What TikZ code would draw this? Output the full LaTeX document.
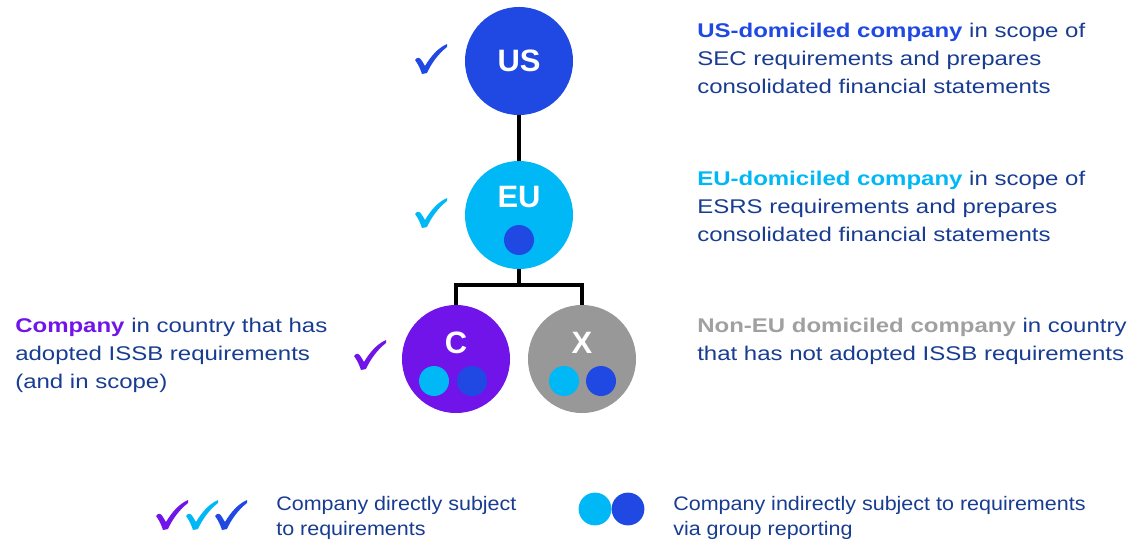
\documentclass[tikz,border=0pt]{standalone}
\usepackage{fontspec}
\setmainfont{Liberation Sans}
\newfontfamily\notefam[FakeStretch=1.21]{Liberation Sans}
\newfontfamily\keyfam[FakeStretch=1.1]{Liberation Sans}
\definecolor{navy}{RGB}{24,60,145}
\definecolor{usblue}{RGB}{31,73,226}
\definecolor{eucyan}{RGB}{0,184,245}
\definecolor{cpurple}{RGB}{113,20,234}
\definecolor{xgray}{RGB}{152,152,152}
\definecolor{xtext}{RGB}{160,160,160}

% tick mark: #1 centre, #2 colour
\newcommand{\tickmark}[2]{%
  \fill[#2, shift={#1}] (-16,1) .. controls (-14,-2) and (-11,-2) .. (-9,2)
    -- (-6,7) .. controls (0,-3) and (7,-11) .. (16,-15) -- (16,-12)
    .. controls (7,-5) and (0,5) .. (-4,14) -- (-9,15)
    .. controls (-11,9) and (-13,5) .. (-16,1) -- cycle;}

\begin{document}
\begin{tikzpicture}[x=0.025cm, y=-0.025cm,
    entity/.style={circle, minimum size=2.7cm, inner sep=0pt},
    subdot/.style={circle, minimum size=0.75cm, inner sep=0pt},
    keydot/.style={circle, minimum size=0.82cm, inner sep=0pt},
    tag/.style={text=white, inner sep=0pt, font=\fontsize{22}{24}\selectfont\bfseries},
    link/.style={line width=2.4pt},
    note/.style={anchor=base west, align=left, inner sep=0pt, text=navy,
      font=\notefam\fontsize{14.1}{19.9}\selectfont},
    keynote/.style={anchor=base west, align=left, inner sep=0pt, text=navy,
      font=\keyfam\fontsize{13.9}{17.4}\selectfont}]
  \useasboundingbox (0,0) rectangle (1131,540);

  % entities
  \node[entity, fill=usblue] (us) at (519,61) {};
  \node[entity, fill=eucyan] (eu) at (519,215) {};
  \node[entity, fill=cpurple] (c) at (456,359) {};
  \node[entity, fill=xgray] (x) at (582,359) {};
  \node[tag] (us-t) at (519,61) {US};
  \node[tag] (eu-t) at (519,197) {EU};
  \node[tag] (c-t) at (456,343) {C};
  \node[tag] (x-t) at (582,343) {X};
  \node[subdot, fill=usblue] (eu-d) at (519,240) {};
  \node[subdot, fill=eucyan] (c-d1) at (434,381) {};
  \node[subdot, fill=usblue] (c-d2) at (472,381) {};
  \node[subdot, fill=eucyan] (x-d1) at (564,381) {};
  \node[subdot, fill=usblue] (x-d2) at (601,381) {};

  % group links
  \coordinate (split) at (519,285);
  \draw[link] (us) -- (eu);
  \draw[link] (eu) -- (split);
  \draw[link] (c) |- (split) -| (x);

  % ticks
  \tickmark{(431,59)}{usblue}
  \tickmark{(431,213)}{eucyan}
  \tickmark{(370,355)}{cpurple}

  % notes (base = last line)
  \node[note] (us-n) at (697,93) {\textbf{\color{usblue}US-domiciled company} in scope of\\
    SEC requirements and prepares\\consolidated financial statements};
  \node[note] (eu-n) at (697,241) {\textbf{\color{eucyan}EU-domiciled company} in scope of\\
    ESRS requirements and prepares\\consolidated financial statements};
  \node[note] (x-n) at (697,360) {\textbf{\color{xtext}Non-EU domiciled company} in country\\
    that has not adopted ISSB requirements};
  \node[note] (c-n) at (15,388) {\textbf{\color{cpurple}Company} in country that has\\
    adopted ISSB requirements\\(and in scope)};

  % key
  \tickmark{(172,515)}{cpurple}
  \tickmark{(202,515)}{eucyan}
  \tickmark{(231,515)}{usblue}
  \node[keynote] (k1) at (276,535) {Company directly subject\\to requirements};
  \node[keydot, fill=eucyan] (k-d1) at (595,509) {};
  \node[keydot, fill=usblue] (k-d2) at (628,509) {};
  \node[keynote] (k2) at (673,535) {Company indirectly subject to requirements\\via group reporting};
\end{tikzpicture}
\end{document}
